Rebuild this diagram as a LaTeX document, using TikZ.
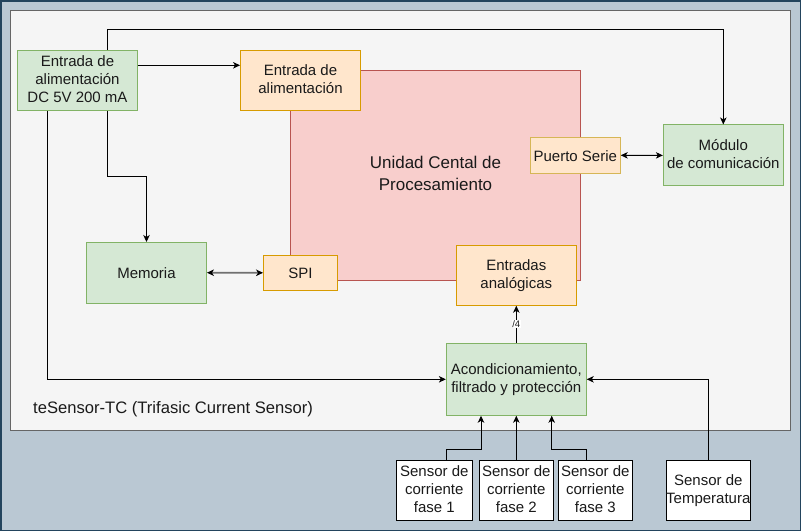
\documentclass[tikz,border=0pt]{standalone}
\usepackage{fontspec}
\setmainfont{Liberation Sans}
\usetikzlibrary{arrows.meta}
\definecolor{outerfill}{HTML}{BAC8D3}
\definecolor{outerline}{HTML}{23445D}
\definecolor{innerfill}{HTML}{F5F5F5}
\definecolor{innerline}{HTML}{666666}
\definecolor{gfill}{HTML}{D5E8D4}
\definecolor{gline}{HTML}{82B366}
\definecolor{ofill}{HTML}{FFE6CC}
\definecolor{oline}{HTML}{D79B00}
\definecolor{yline}{HTML}{D6B656}
\definecolor{rfill}{HTML}{F8CECC}
\definecolor{rline}{HTML}{B85450}
\definecolor{txt}{HTML}{1A1A1A}
\definecolor{gline2}{HTML}{707070}
\newcommand\lnstrutA{\rule[-2.9pt]{0pt}{18pt}}
\newcommand\lnstrutB{\rule[-3.6pt]{0pt}{21.5pt}}
\tikzset{
  basebox/.style={rectangle, inner sep=0pt, align=center, text=txt, line width=0.9pt,
    font=\fontsize{15}{18}\selectfont,
    execute at begin node=\lnstrutA, execute at end node=\lnstrutA},
  greenbox/.style={basebox, fill=gfill, draw=gline},
  orangebox/.style={basebox, fill=ofill, draw=oline},
  yellowbox/.style={basebox, fill=ofill, draw=yline},
  redbox/.style={rectangle, inner sep=0pt, align=center, text=txt, line width=0.9pt,
    fill=rfill, draw=rline, font=\fontsize{17}{21.5}\selectfont,
    execute at begin node=\lnstrutB, execute at end node=\lnstrutB},
  sensorbox/.style={basebox, fill=white, draw=black},
  arr/.style={line width=0.9pt, draw=black, -{Stealth[length=7pt,width=6.5pt,inset=2pt]}},
  darr/.style={line width=0.9pt, draw=black, {Stealth[length=7pt,width=6.5pt,inset=2pt]}-{Stealth[length=7pt,width=6.5pt,inset=2pt]}},
  garr/.style={line width=1.6pt, draw=gline2, {Stealth[length=7pt,width=6.5pt,inset=2pt,fill=black,color=black]}-{Stealth[length=7pt,width=6.5pt,inset=2pt,fill=black,color=black]}},
}
\begin{document}
\begin{tikzpicture}[x=1pt,y=-1pt]
\useasboundingbox (0,0) rectangle (801,531);
% outer background
\draw[fill=outerfill, draw=outerline, line width=1.5pt] (0.75,0.75) rectangle (800.25,530.25);
% inner system box
\draw[fill=innerfill, draw=innerline, line width=0.9pt] (10.5,10.5) rectangle (790.5,430.5);
\node[anchor=west, text=txt, font=\fontsize{16.6}{20}\selectfont, inner sep=0pt] (title) at (33,409) {teSensor-TC (Trifasic Current Sensor)};

% CPU
\node[redbox, minimum width=290pt, minimum height=210pt] (cpu) at (435.5,175.3) {Unidad Cental de\\Procesamiento};

% boxes
\node[greenbox, minimum width=120pt, minimum height=60pt] (pwr) at (77.5,80.3) {Entrada de\\alimentación\\DC 5V 200 mA};
\node[orangebox, minimum width=120pt, minimum height=60pt] (ent) at (300.5,80.3) {Entrada de\\alimentación};
\node[yellowbox, minimum width=90pt, minimum height=36pt] (ps) at (575.3,155.3) {Puerto Serie};
\node[greenbox, minimum width=120pt, minimum height=61pt] (mod) at (723.3,155.4) {Módulo\\de comunicación};
\node[greenbox, minimum width=120pt, minimum height=60.5pt] (mem) at (146.5,272.7) {Memoria};
\node[orangebox, minimum width=74pt, minimum height=35pt] (spi) at (300.5,272.8) {SPI};
\node[orangebox, minimum width=120pt, minimum height=60pt] (ana) at (516.3,275.3) {Entradas\\analógicas};
\node[greenbox, minimum width=140pt, minimum height=72pt] (acd) at (516.3,379.3) {Acondicionamiento,\\filtrado y protección};

% sensors
\node[sensorbox, minimum width=76pt, minimum height=60pt] (s1) at (434.3,490.2) {Sensor de\\corriente\\fase 1};
\node[sensorbox, minimum width=74pt, minimum height=60pt] (s2) at (516.3,490.2) {Sensor de\\corriente\\fase 2};
\node[sensorbox, minimum width=74pt, minimum height=60pt] (s3) at (595.3,490.2) {Sensor de\\corriente\\fase 3};
\node[sensorbox, minimum width=84pt, minimum height=60pt] (tmp) at (708.3,490.2) {Sensor de\\Temperatura};

% connectors
\draw[arr] ([yshift=15pt]pwr.east) -- ([yshift=15pt]ent.west);
\draw[arr] ([xshift=29.8pt]pwr.north) -- ++(0,-20) -| (mod.north);
\draw[arr] ([xshift=29.8pt]pwr.south) -- ++(0,66) -| (mem.north);
\draw[arr] ([xshift=-29.8pt]pwr.south) |- (acd.west);
\draw[garr] (mem.east) -- (spi.west);
\draw[darr] (ps.east) -- (mod.west);
\draw[arr] (acd.north) -- node[fill=white, inner sep=0.6pt, text=txt, font=\fontsize{9.5}{10}\selectfont] (lbl) {/4} (ana.south);
\draw[arr] ([xshift=11.9pt]s1.north) -- ++(0,-10) -| ([xshift=-35.3pt]acd.south);
\draw[arr] (s2.north) -- (acd.south);
\draw[arr] ([xshift=-9.3pt]s3.north) -- ++(0,-10) -| ([xshift=35.4pt]acd.south);
\draw[arr] (tmp.north) |- (acd.east);
\end{tikzpicture}
\end{document}
